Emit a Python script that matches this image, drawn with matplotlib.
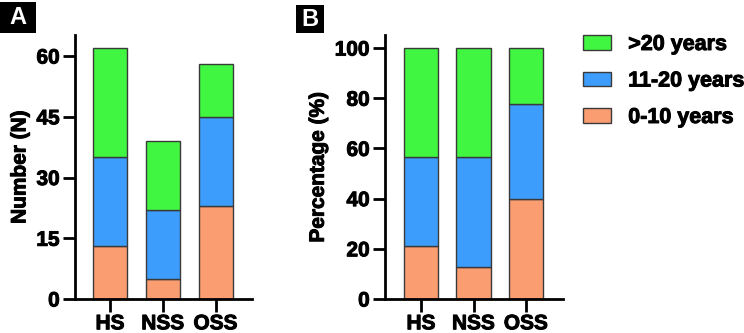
import numpy as np
import matplotlib
matplotlib.use('Agg')
import matplotlib.pyplot as plt
import matplotlib.patheffects as pe
from matplotlib.patches import Rectangle

plt.rcParams['font.family'] = ['Liberation Sans', 'DejaVu Sans']
plt.rcParams['font.weight'] = 'bold'

groups = ['HS', 'NSS', 'OSS']
series = ['0-10 years', '11-20 years', '>20 years']
colors = ['#FA9D70', '#3D9DFC', '#40F640']

# counts (panel A)
count_0_10 = [13, 5, 23]
count_11_20 = [22, 17, 22]
count_over20 = [27, 17, 13]

# percentages (panel B)
pct_0_10 = [21.0, 12.8, 39.7]
pct_11_20 = [35.5, 43.6, 37.9]
pct_over20 = [43.5, 43.6, 22.4]

W, H = 744, 333
fig = plt.figure(figsize=(W / 100, H / 100), dpi=100)
thick = [pe.withStroke(linewidth=0.7, foreground='black')]


def px_axes(x0, x1, y0, y1):
    return fig.add_axes([x0 / W, 1 - y1 / H, (x1 - x0) / W, (y1 - y0) / H])


def stacked(ax, data, width):
    x = np.arange(len(groups))
    bottom = np.zeros(len(groups))
    bars = []
    for vals, col, lab in zip(data, colors, series):
        b = ax.bar(x, vals, width, bottom=bottom, color=col, edgecolor='#3a3a3a',
                   linewidth=1.0, label=lab, zorder=2)
        bars.append(b)
        bottom = bottom + np.array(vals)
    ax.set_xticks(x)
    ax.set_xticklabels(groups)
    for s in ['top', 'right']:
        ax.spines[s].set_visible(False)
    for s in ['left', 'bottom']:
        ax.spines[s].set_linewidth(2)
    ax.tick_params(axis='both', length=9, width=2, labelsize=15, pad=2)
    for t in ax.get_xticklabels() + ax.get_yticklabels():
        t.set_fontweight('bold')
        t.set_path_effects(thick)
    return bars


axA = px_axes(75, 252, 35, 299)
stacked(axA, [count_0_10, count_11_20, count_over20], 0.645)
axA.set_xlim(-0.664, 2.69)
axA.set_ylim(0, 65.2)
axA.set_yticks([0, 15, 30, 45, 60])
axA.set_ylabel('Number (N)', fontsize=15, fontweight='bold', labelpad=5,
               path_effects=thick)

axB = px_axes(385, 563, 35, 299)
bars = stacked(axB, [pct_0_10, pct_11_20, pct_over20], 0.66)
axB.set_xlim(-0.686, 2.705)
axB.set_ylim(0, 105.2)
axB.set_yticks([0, 20, 40, 60, 80, 100])
axB.set_ylabel('Percentage (%)', fontsize=15, fontweight='bold', labelpad=5,
               path_effects=thick)

leg = fig.legend(handles=bars[::-1], labels=series[::-1], loc='upper left',
                 bbox_to_anchor=(583 / W, 1 - 34 / H), frameon=False,
                 prop={'size': 15.5, 'weight': 'bold'}, handlelength=1.3,
                 handleheight=0.66, handletextpad=0.8, labelspacing=0.72,
                 borderaxespad=0, borderpad=0)
for t in leg.get_texts():
    t.set_path_effects(thick)

# panel letters
for (x0, x1, y0, y1, letter) in [(0, 36, 2, 33, 'A'), (296, 324, 5, 33, 'B')]:
    fig.add_artist(Rectangle((x0 / W, 1 - y1 / H), (x1 - x0) / W, (y1 - y0) / H,
                             transform=fig.transFigure, facecolor='black',
                             edgecolor='none'))
    fig.text((x0 + x1) / 2 / W, 1 - (y0 + y1) / 2 / H, letter, color='white',
             fontsize=17, fontweight='bold', ha='center', va='center')

fig.savefig('out.png', dpi=100)
